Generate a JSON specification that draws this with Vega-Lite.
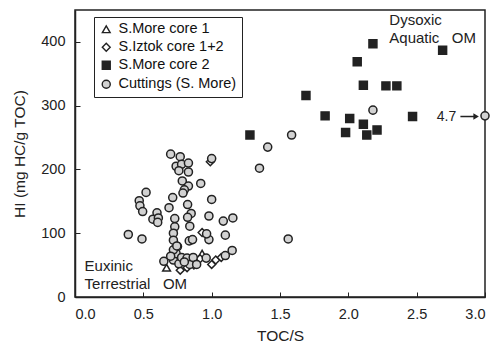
{
  "$schema": "https://vega.github.io/schema/vega-lite/v6.json",
  "width": 410,
  "height": 287,
  "autosize": {"type": "none"},
  "padding": {"left": 75, "top": 10, "right": 11, "bottom": 54},
  "background": "white",
  "config": {
    "font": "Liberation Sans",
    "view": {"stroke": "#222", "strokeWidth": 1.5},
    "axis": {
      "grid": false,
      "domainColor": "#222",
      "domainWidth": 1.5,
      "tickColor": "#222",
      "tickSize": -5,
      "labelFont": "Liberation Sans",
      "labelFontSize": 14.5,
      "labelColor": "#222",
      "titleFont": "Liberation Sans",
      "titleFontSize": 15.5,
      "titleFontWeight": "normal",
      "titleColor": "#222"
    },
    "legend": {
      "labelFont": "Liberation Sans",
      "labelFontSize": 14.5,
      "labelColor": "#111"
    }
  },
  "data": {
    "values": [
      {"s": "S.More core 2", "toc": 1.28, "hi": 254},
      {"s": "S.More core 2", "toc": 1.69, "hi": 316},
      {"s": "S.More core 2", "toc": 1.83, "hi": 284},
      {"s": "S.More core 2", "toc": 1.98, "hi": 258},
      {"s": "S.More core 2", "toc": 2.01, "hi": 280},
      {"s": "S.More core 2", "toc": 2.065, "hi": 369},
      {"s": "S.More core 2", "toc": 2.11, "hi": 332},
      {"s": "S.More core 2", "toc": 2.11, "hi": 271},
      {"s": "S.More core 2", "toc": 2.135, "hi": 254},
      {"s": "S.More core 2", "toc": 2.18, "hi": 397},
      {"s": "S.More core 2", "toc": 2.21, "hi": 262},
      {"s": "S.More core 2", "toc": 2.275, "hi": 331},
      {"s": "S.More core 2", "toc": 2.355, "hi": 331},
      {"s": "S.More core 2", "toc": 2.47, "hi": 283},
      {"s": "S.More core 2", "toc": 2.69, "hi": 387},
      {"s": "S.More core 1", "toc": 0.67, "hi": 46},
      {"s": "S.More core 1", "toc": 0.93, "hi": 68},
      {"s": "S.Iztok core 1+2", "toc": 0.99, "hi": 212},
      {"s": "S.Iztok core 1+2", "toc": 0.93, "hi": 101},
      {"s": "S.Iztok core 1+2", "toc": 0.77, "hi": 42},
      {"s": "S.Iztok core 1+2", "toc": 0.82, "hi": 46},
      {"s": "S.Iztok core 1+2", "toc": 0.87, "hi": 50},
      {"s": "S.Iztok core 1+2", "toc": 0.915, "hi": 60},
      {"s": "S.Iztok core 1+2", "toc": 1.0, "hi": 51},
      {"s": "S.Iztok core 1+2", "toc": 1.03, "hi": 58},
      {"s": "S.Iztok core 1+2", "toc": 1.07, "hi": 62},
      {"s": "Cuttings (S. More)", "toc": 0.7, "hi": 224},
      {"s": "Cuttings (S. More)", "toc": 0.77, "hi": 220},
      {"s": "Cuttings (S. More)", "toc": 0.74, "hi": 205},
      {"s": "Cuttings (S. More)", "toc": 0.78, "hi": 208},
      {"s": "Cuttings (S. More)", "toc": 0.83, "hi": 210},
      {"s": "Cuttings (S. More)", "toc": 0.76, "hi": 198},
      {"s": "Cuttings (S. More)", "toc": 0.83, "hi": 196},
      {"s": "Cuttings (S. More)", "toc": 1.0, "hi": 217},
      {"s": "Cuttings (S. More)", "toc": 0.785, "hi": 182},
      {"s": "Cuttings (S. More)", "toc": 0.83, "hi": 174},
      {"s": "Cuttings (S. More)", "toc": 0.8, "hi": 168},
      {"s": "Cuttings (S. More)", "toc": 0.79, "hi": 163},
      {"s": "Cuttings (S. More)", "toc": 0.92, "hi": 178},
      {"s": "Cuttings (S. More)", "toc": 0.52, "hi": 164},
      {"s": "Cuttings (S. More)", "toc": 0.715, "hi": 156},
      {"s": "Cuttings (S. More)", "toc": 1.0, "hi": 153},
      {"s": "Cuttings (S. More)", "toc": 0.47, "hi": 151},
      {"s": "Cuttings (S. More)", "toc": 0.475, "hi": 143},
      {"s": "Cuttings (S. More)", "toc": 0.495, "hi": 134},
      {"s": "Cuttings (S. More)", "toc": 0.688, "hi": 140},
      {"s": "Cuttings (S. More)", "toc": 0.824, "hi": 145},
      {"s": "Cuttings (S. More)", "toc": 0.6, "hi": 132},
      {"s": "Cuttings (S. More)", "toc": 0.57, "hi": 122},
      {"s": "Cuttings (S. More)", "toc": 0.61, "hi": 124},
      {"s": "Cuttings (S. More)", "toc": 0.605, "hi": 117},
      {"s": "Cuttings (S. More)", "toc": 0.73, "hi": 123},
      {"s": "Cuttings (S. More)", "toc": 0.85, "hi": 131},
      {"s": "Cuttings (S. More)", "toc": 0.824, "hi": 125},
      {"s": "Cuttings (S. More)", "toc": 0.98, "hi": 127},
      {"s": "Cuttings (S. More)", "toc": 1.085, "hi": 119},
      {"s": "Cuttings (S. More)", "toc": 1.155, "hi": 124},
      {"s": "Cuttings (S. More)", "toc": 0.73, "hi": 110},
      {"s": "Cuttings (S. More)", "toc": 0.84, "hi": 111},
      {"s": "Cuttings (S. More)", "toc": 0.72, "hi": 100},
      {"s": "Cuttings (S. More)", "toc": 0.72, "hi": 89},
      {"s": "Cuttings (S. More)", "toc": 0.836, "hi": 88},
      {"s": "Cuttings (S. More)", "toc": 0.86, "hi": 90},
      {"s": "Cuttings (S. More)", "toc": 0.98, "hi": 90},
      {"s": "Cuttings (S. More)", "toc": 1.1, "hi": 97},
      {"s": "Cuttings (S. More)", "toc": 0.963, "hi": 99},
      {"s": "Cuttings (S. More)", "toc": 0.75, "hi": 79},
      {"s": "Cuttings (S. More)", "toc": 0.49, "hi": 91},
      {"s": "Cuttings (S. More)", "toc": 0.39, "hi": 98},
      {"s": "Cuttings (S. More)", "toc": 0.65, "hi": 56},
      {"s": "Cuttings (S. More)", "toc": 0.72, "hi": 58},
      {"s": "Cuttings (S. More)", "toc": 0.74, "hi": 68},
      {"s": "Cuttings (S. More)", "toc": 0.76, "hi": 52},
      {"s": "Cuttings (S. More)", "toc": 0.78, "hi": 62},
      {"s": "Cuttings (S. More)", "toc": 0.82, "hi": 61},
      {"s": "Cuttings (S. More)", "toc": 0.84, "hi": 51},
      {"s": "Cuttings (S. More)", "toc": 0.865, "hi": 62},
      {"s": "Cuttings (S. More)", "toc": 0.89, "hi": 51},
      {"s": "Cuttings (S. More)", "toc": 0.72, "hi": 74},
      {"s": "Cuttings (S. More)", "toc": 0.745, "hi": 80},
      {"s": "Cuttings (S. More)", "toc": 0.96, "hi": 61},
      {"s": "Cuttings (S. More)", "toc": 1.1, "hi": 65},
      {"s": "Cuttings (S. More)", "toc": 1.15, "hi": 73},
      {"s": "Cuttings (S. More)", "toc": 0.7, "hi": 64},
      {"s": "Cuttings (S. More)", "toc": 0.8, "hi": 55},
      {"s": "Cuttings (S. More)", "toc": 1.35, "hi": 202},
      {"s": "Cuttings (S. More)", "toc": 1.41, "hi": 235},
      {"s": "Cuttings (S. More)", "toc": 1.585, "hi": 254},
      {"s": "Cuttings (S. More)", "toc": 1.56, "hi": 91},
      {"s": "Cuttings (S. More)", "toc": 2.18, "hi": 293},
      {"s": "Cuttings (S. More)", "toc": 3.0, "hi": 284}
    ]
  },
  "layer": [
    {
      "mark": {"type": "point", "filled": true, "stroke": "#222", "strokeWidth": 1.5, "opacity": 1, "clip": false},
      "encoding": {
        "x": {
          "field": "toc", "type": "quantitative", "title": "TOC/S",
          "scale": {"domain": [0, 3], "nice": false},
          "axis": {"values": [0, 0.5, 1, 1.5, 2, 2.5, 3], "format": ".1f", "labelPadding": 15, "titlePadding": 8}
        },
        "y": {
          "field": "hi", "type": "quantitative", "title": "HI (mg HC/g TOC)",
          "scale": {"domain": [0, 450], "nice": false},
          "axis": {"values": [0, 50, 100, 150, 200, 250, 300, 350, 400], "labelExpr": "datum.value % 100 === 0 ? datum.label : ''", "labelPadding": 15, "titlePadding": 13}
        },
        "shape": {
          "field": "s", "type": "nominal",
          "scale": {"domain": ["S.More core 1", "S.Iztok core 1+2", "S.More core 2", "Cuttings (S. More)"], "range": ["triangle-up", "diamond", "square", "circle"]},
          "legend": {"title": null, "orient": "none", "legendX": 19, "legendY": 7, "strokeColor": "#222", "padding": 5, "rowPadding": 3, "symbolStrokeColor": "#222", "symbolStrokeWidth": 1.4, "labelOffset": 5}
        },
        "fill": {
          "field": "s", "type": "nominal",
          "scale": {"domain": ["S.More core 1", "S.Iztok core 1+2", "S.More core 2", "Cuttings (S. More)"], "range": ["white", "white", "#222222", "#d2d2d2"]},
          "legend": {"title": null}
        },
        "size": {
          "field": "s", "type": "nominal",
          "scale": {"domain": ["S.More core 1", "S.Iztok core 1+2", "S.More core 2", "Cuttings (S. More)"], "range": [60, 65, 95, 72]},
          "legend": {"title": null}
        },
        "order": {"field": "s", "sort": "descending"}
      }
    },
    {
      "data": {"values": [{"label": "Dysoxic", "tx": 2.3, "ty": 434}, {"label": "Aquatic\u00a0\u00a0\u00a0OM", "tx": 2.3, "ty": 406}, {"label": "Euxinic", "tx": 0.07, "ty": 48}, {"label": "Terrestrial\u00a0\u00a0\u00a0OM", "tx": 0.07, "ty": 20}]},
      "mark": {"type": "text", "align": "left", "baseline": "middle", "fontSize": 15, "color": "#222", "font": "Liberation Sans"},
      "encoding": {"x": {"field": "tx", "type": "quantitative"}, "y": {"field": "ty", "type": "quantitative"}, "text": {"field": "label"}}
    },
    {
      "data": {"values": [{"label": "4.7", "tx": 2.79, "ty": 283}]},
      "mark": {"type": "text", "align": "right", "baseline": "middle", "fontSize": 14, "color": "#222", "font": "Liberation Sans"},
      "encoding": {"x": {"field": "tx", "type": "quantitative"}, "y": {"field": "ty", "type": "quantitative"}, "text": {"field": "label"}}
    },
    {
      "data": {"values": [{"x1": 2.82, "x2": 2.93, "ty": 283}]},
      "mark": {"type": "rule", "color": "#222", "strokeWidth": 1.5},
      "encoding": {"x": {"field": "x1", "type": "quantitative"}, "x2": {"field": "x2"}, "y": {"field": "ty", "type": "quantitative"}}
    },
    {
      "data": {"values": [{"tx": 2.935, "ty": 283}]},
      "mark": {"type": "point", "shape": "triangle-right", "filled": true, "color": "#222", "size": 40, "opacity": 1},
      "encoding": {"x": {"field": "tx", "type": "quantitative"}, "y": {"field": "ty", "type": "quantitative"}}
    }
  ]
}
